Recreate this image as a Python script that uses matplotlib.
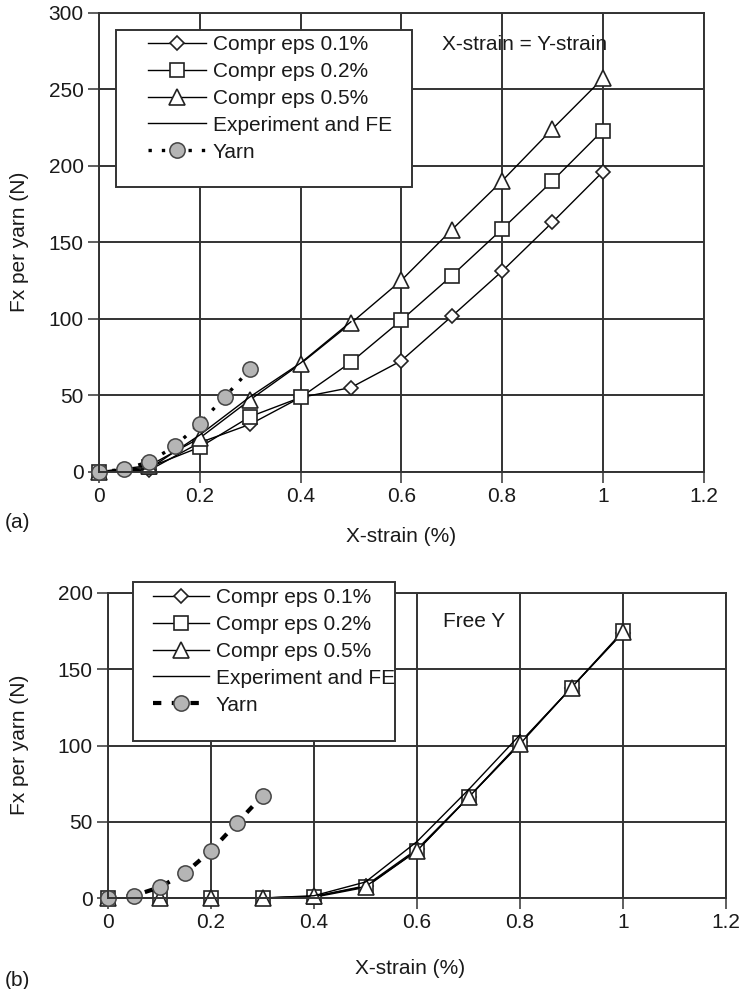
import matplotlib
matplotlib.use("Agg")
import matplotlib.pyplot as plt
from matplotlib.patches import Rectangle

# dados
strain = [0, 0.1, 0.2, 0.3, 0.4, 0.5, 0.6, 0.7, 0.8, 0.9, 1.0]
yarn_strain = [0, 0.05, 0.1, 0.15, 0.2, 0.25, 0.3]

# (a) X-strain = Y-strain
a_eps01 = [0, 1, 19, 31, 48.5, 55, 72.5, 101.5, 131, 163, 196]
a_eps02 = [0, 3, 16, 36, 48.5, 71.5, 99, 128, 158.5, 190, 223]
a_eps05 = [0, 4, 22, 47, 70.5, 97, 125, 158, 190, 224, 257]
a_exp_strain = [0, 0.1, 0.2, 0.3, 0.4, 0.5]
a_exp = [0, 2, 24, 49, 71, 98]
a_yarn = [0, 1.5, 6.6, 16.5, 31.5, 49, 67]

# (b) Free Y
b_eps01 = [0, 0, 0, 0, 1, 8, 32, 66, 102, 138, 174]
b_eps02 = [0, 0, 0, 0, 0.5, 7, 31, 66, 101.5, 138, 175]
b_eps05 = [0, 0, 0, 0, 1, 7.5, 31, 66, 101, 138, 174.5]
b_exp_strain = [0.3, 0.4, 0.5, 0.6, 0.7, 0.8]
b_exp = [0, 1.5, 10.5, 37, 71, 107]
b_yarn = [0, 1.5, 7, 16.5, 31, 49, 67]

labels = ["Compr eps 0.1%", "Compr eps 0.2%", "Compr eps 0.5%",
          "Experiment and FE", "Yarn"]

plt.rcParams["font.family"] = ["Liberation Sans", "DejaVu Sans"]
plt.rcParams["font.size"] = 15
plt.rcParams["text.color"] = "#1a1a1a"

W, H = 744, 989
fig = plt.figure(figsize=(W / 100, H / 100), dpi=100)

gray = "#333333"
mk = dict(color="black", lw=1.0, markerfacecolor="white",
          markeredgecolor="#222222", markeredgewidth=1.2, clip_on=False)


def setup(ax, ymax):
    ax.set_xlim(0, 1.2)
    ax.set_ylim(0, ymax)
    ax.set_xticks([0, 0.2, 0.4, 0.6, 0.8, 1.0, 1.2])
    ax.set_xticklabels(["0", "0.2", "0.4", "0.6", "0.8", "1", "1.2"])
    ax.set_yticks(range(0, ymax + 1, 50))
    ax.grid(True, color=gray, lw=1.4)
    ax.set_axisbelow(True)
    for s in ax.spines.values():
        s.set_color(gray)
        s.set_linewidth(1.4)
    ax.tick_params(direction="out", length=8, width=1.1, color=gray,
                   labelsize=15, pad=3, labelcolor="#1a1a1a")


def draw(ax, e1, e2, e3, exs, ex, yarn, yarn_style):
    h1, = ax.plot(strain, e1, marker="D", ms=7, **mk)
    h2, = ax.plot(strain, e2, marker="s", ms=10.5, **mk)
    h3, = ax.plot(strain, e3, marker="^", ms=11, **mk)
    h4, = ax.plot(exs, ex, color="black", lw=1.0)
    h5, = ax.plot(yarn_strain, yarn, color="black", marker="o", ms=11,
                  markerfacecolor="#b5b5b5", markeredgecolor="#444444",
                  markeredgewidth=1.1, clip_on=False, **yarn_style)
    return [h1, h2, h3, h4, h5]


def px_rect(x0, y0, x1, y1):
    fig.patches.append(Rectangle((x0 / W, 1 - y1 / H), (x1 - x0) / W,
                                 (y1 - y0) / H, transform=fig.transFigure,
                                 facecolor="white", edgecolor=gray, lw=1.4,
                                 zorder=4))


# (a)
ax1 = fig.add_axes([99 / W, 1 - 471.7 / H, 604.5 / W, 459 / H])
setup(ax1, 300)
hs = draw(ax1, a_eps01, a_eps02, a_eps05, a_exp_strain, a_exp, a_yarn,
          dict(lw=2.4, dashes=(1, 3)))
ax1.text(0.68, 279, "X-strain = Y-strain", fontsize=15, va="center")
px_rect(116, 30, 412, 187)
fig.legend(hs, labels, loc="upper left", bbox_to_anchor=(148 / W, 1 - 35 / H),
           frameon=False, borderpad=0, borderaxespad=0, handlelength=2.8,
           handletextpad=0.3, labelspacing=0.38, fontsize=15)
fig.text(20 / W, 1 - 242 / H, "Fx per yarn (N)", rotation=90,
         ha="center", va="center", fontsize=15)
fig.text(401 / W, 1 - 536 / H, "X-strain (%)", ha="center", va="center",
         fontsize=15)
fig.text(18 / W, 1 - 523 / H, "(a)", ha="center", va="center", fontsize=15)

# (b)
ax2 = fig.add_axes([108 / W, 1 - 898 / H, 618 / W, 305 / H])
setup(ax2, 200)
hs = draw(ax2, b_eps01, b_eps02, b_eps05, b_exp_strain, b_exp, b_yarn,
          dict(lw=3, dashes=(2, 2.5)))
ax2.text(0.65, 181, "Free Y", fontsize=15, va="center")
px_rect(133, 582, 395, 741)
fig.legend(hs, labels, loc="upper left", bbox_to_anchor=(153 / W, 1 - 588 / H),
           frameon=False, borderpad=0, borderaxespad=0, handlelength=2.7,
           handletextpad=0.3, labelspacing=0.38, fontsize=15)
fig.text(20 / W, 1 - 745 / H, "Fx per yarn (N)", rotation=90,
         ha="center", va="center", fontsize=15)
fig.text(410 / W, 1 - 968 / H, "X-strain (%)", ha="center", va="center",
         fontsize=15)
fig.text(17 / W, 1 - 980 / H, "(b)", ha="center", va="center", fontsize=15)

fig.savefig("out.png", dpi=100)
plt.close()
